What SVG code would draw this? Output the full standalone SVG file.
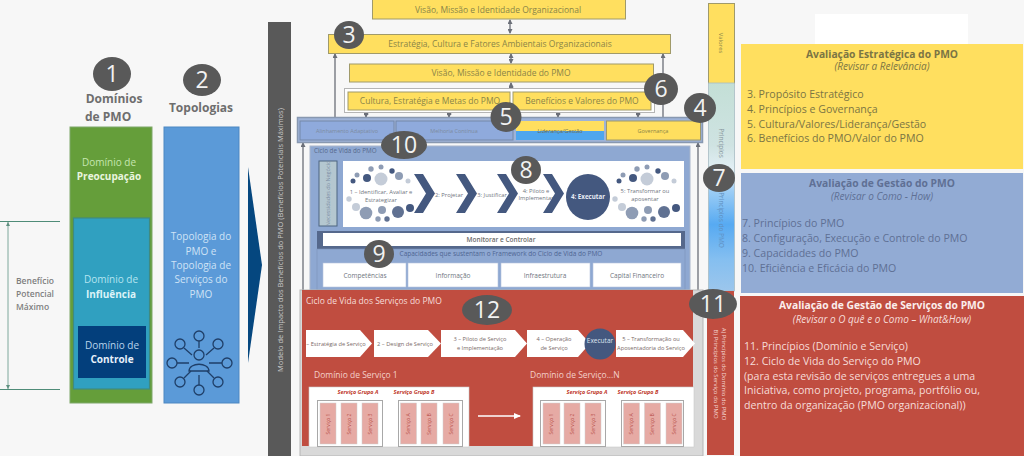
<svg xmlns="http://www.w3.org/2000/svg" xmlns:xlink="http://www.w3.org/1999/xlink" width="1024" height="456" viewBox="0 0 1024 456">
<style>
text{font-family:"Open Sans","Noto Sans","Liberation Sans",sans-serif}
.y{fill:#ffdf5f;stroke:#a09a6a;stroke-width:1}
.yt{fill:#8a8548;font-size:8.5px;text-anchor:middle}
.bn{fill:#8faadc;stroke:#7488a8;stroke-width:1}
.st{font-size:5.5px;text-anchor:middle;fill:#7d8aa0}
.num{fill:#595959}
.nt{fill:#f2f2f2;font-size:23px;text-anchor:middle}
.w{fill:#fff}
.p7{font-size:6.5px;text-anchor:middle;fill:#6f7680}
.p6{font-size:5.8px;text-anchor:middle;fill:#6f7680}
.chev{fill:#44587f}
.pent{fill:#fff}
.pt{font-size:5.7px;text-anchor:middle;fill:#7a6a68}
.svc{fill:#e6aaa4;stroke:#cfcfcf;stroke-width:.5}
.grp{fill:#fff;stroke:#a8a8a8;stroke-width:1}
.gt{font-size:5.5px;font-weight:700;font-style:italic;fill:#c0392b;text-anchor:middle}
.sv{font-size:5px;fill:#b8504a;text-anchor:middle}
.cap{fill:#fff;stroke:#b5c4dd;stroke-width:.6}
.c1{fill:#44587f}.c2{fill:#8e9cb4}.c3{fill:#c4ccd8}
.con{stroke:#6b6f78;stroke-width:1.3;fill:none}
.ic{fill:none;stroke:#1f3f68;stroke-width:1.3}
.h{font-size:10.3px;font-weight:700;text-anchor:middle}
.s{font-size:10px;font-style:italic;text-anchor:middle}
.l{font-size:10.6px}
</style>
<defs>
<marker id="ah" markerWidth="5" markerHeight="5" refX="4" refY="2.5" orient="auto-start-reverse" markerUnits="userSpaceOnUse"><path d="M0 0L5 2.5L0 5z" fill="#6b6f78"/></marker>
<marker id="aw" markerWidth="7" markerHeight="6" refX="6" refY="3" orient="auto" markerUnits="userSpaceOnUse"><path d="M0 0L7 3L0 6z" fill="#fff"/></marker>
<linearGradient id="pg" x1="0" y1="0" x2="0" y2="1">
<stop offset="0" stop-color="#c3dfd6"/><stop offset=".3" stop-color="#cfe3e2"/><stop offset=".42" stop-color="#e3f0f6"/><stop offset=".52" stop-color="#9ccdf5"/><stop offset=".68" stop-color="#57aaf2"/><stop offset=".85" stop-color="#85bff0"/><stop offset="1" stop-color="#9cc6ec"/>
</linearGradient>
<g id="dots">
<circle class="c1" cx="353" cy="181" r="2.5"/><circle class="c2" cx="357" cy="175" r="2.5"/><circle class="c1" cx="367" cy="178" r="4"/><circle class="c2" cx="371" cy="169" r="2.7"/><circle class="c2" cx="381" cy="167" r="2.5"/><circle class="c3" cx="381" cy="179" r="6.5"/><circle class="c1" cx="392" cy="171" r="2.7"/><circle class="c2" cx="399" cy="176" r="4"/><circle class="c3" cx="408" cy="181" r="2.5"/><circle class="c3" cx="349" cy="199" r="2.7"/><circle class="c3" cx="356" cy="207" r="4"/><circle class="c2" cx="366" cy="213" r="6.3"/><circle class="c2" cx="382" cy="210" r="4"/><circle class="c1" cx="398" cy="212" r="6" opacity=".85"/><circle class="c1" cx="410" cy="208" r="4"/><circle class="c2" cx="378" cy="219" r="2.7"/><circle class="c1" cx="387" cy="219" r="2.7" opacity=".85"/>
</g>
<path id="chv" d="M0 0H9L21 19.5L9 39H0L12 19.5z"/>
</defs>

<rect width="1024" height="456" fill="#f7f7f7"/>

<g id="beneficio">
<path d="M0 221.500H60M0 389.500H60" stroke="#4f8c78" stroke-width="1.2" fill="none"/>
<path d="M8 222V389" stroke="#7fa89c" stroke-width="1"/>
<path d="M8 222l-2 4h4zM8 389l-2-4h4z" fill="#5f9080"/>
<text x="16" y="284" font-size="8.500" font-weight="600" fill="#7f7f7f">Benefício</text>
<text x="16" y="297" font-size="8.500" font-weight="600" fill="#7f7f7f">Potencial</text>
<text x="16" y="310" font-size="8.500" font-weight="600" fill="#7f7f7f">Máximo</text>
</g>

<g id="dominios">
<text x="114" y="103" font-size="12" font-weight="700" fill="#6e6e6e" text-anchor="middle">Domínios</text>
<text x="85" y="121" font-size="12" font-weight="700" fill="#6e6e6e">de PMO</text>
<rect x="70" y="127" width="82" height="276" fill="#659e3a" stroke="#7fa86a"/>
<text x="109" y="166" font-size="10" fill="#c5e6b0" text-anchor="middle">Domínio de</text>
<text x="109" y="180" font-size="10" font-weight="700" fill="#e9f5df" text-anchor="middle">Preocupação</text>
<rect x="73.500" y="218" width="76" height="171" fill="#30a0c0" stroke="#3f8a80" stroke-width="1.2"/>
<text x="111" y="283" font-size="10" fill="#b5e4f0" text-anchor="middle">Domínio de</text>
<text x="111" y="298" font-size="10" font-weight="700" fill="#dcf3f8" text-anchor="middle">Influência</text>
<rect x="78" y="326" width="68" height="52" fill="#033f7c"/>
<text x="112" y="349" font-size="10" fill="#b9d3ec" text-anchor="middle">Domínio de</text>
<text x="112" y="363" font-size="10" font-weight="700" fill="#e6f0fa" text-anchor="middle">Controle</text>
</g>

<g id="topologias">
<text x="201" y="112" font-size="12" font-weight="700" fill="#6e6e6e" text-anchor="middle">Topologias</text>
<rect x="164" y="127" width="75" height="276" fill="#5b9ad8" stroke="#4d87c2"/>
<text x="201" y="240" font-size="10" fill="#cfe3f6" text-anchor="middle">Topologia do</text>
<text x="201" y="255" font-size="10" fill="#cfe3f6" text-anchor="middle">PMO e</text>
<text x="201" y="269" font-size="10" fill="#cfe3f6" text-anchor="middle">Topologia de</text>
<text x="201" y="283" font-size="10" fill="#cfe3f6" text-anchor="middle">Serviços do</text>
<text x="201" y="298" font-size="10" fill="#cfe3f6" text-anchor="middle">PMO</text>
<g class="ic">
<circle cx="199" cy="336" r="5"/><circle cx="180" cy="344" r="5"/><circle cx="218" cy="344" r="5"/><circle cx="172" cy="363" r="5"/><circle cx="227" cy="363" r="5"/><circle cx="180" cy="382" r="5"/><circle cx="218" cy="382" r="5"/><circle cx="199" cy="390" r="5"/>
<path d="M199 341V348M184 348L192 355M214 348L206 355M177 363H189M209 363H222M184 378L191 371M214 378L207 371M199 385V375"/>
<circle cx="199" cy="355" r="5"/>
<path d="M189 371C189 362 209 362 209 371Z"/>
</g>
</g>

<path id="seta" d="M248 167L262 265L248 363z" fill="#05477f"/>

<g id="modelo">
<rect x="268" y="22" width="23" height="434" fill="#595959"/>
<text transform="translate(283 240) rotate(-90)" font-size="7.500" fill="#c8c8c8" text-anchor="middle">Modelo de Impacto dos Benefícios do PMO (Benefícios Potenciais Máximos)</text>
</g>

<g id="conectores">
<path class="con" d="M510 20V33" marker-start="url(#ah)" marker-end="url(#ah)"/>
<path class="con" d="M511 54V63" marker-start="url(#ah)" marker-end="url(#ah)"/>
<path class="con" d="M511 83V91" marker-start="url(#ah)" marker-end="url(#ah)"/>
<path class="con" d="M335 117V54" marker-end="url(#ah)"/>
<path class="con" d="M663 117V54" marker-end="url(#ah)"/>
<path class="con" d="M366 111V117" marker-start="url(#ah)" marker-end="url(#ah)"/>
<path class="con" d="M449 111V117" marker-start="url(#ah)" marker-end="url(#ah)"/>
<path class="con" d="M558 111V117" marker-start="url(#ah)" marker-end="url(#ah)"/>
<path class="con" d="M638 111V117" marker-start="url(#ah)" marker-end="url(#ah)"/>
<path class="con" d="M303 290V143" marker-end="url(#ah)"/>
<path class="con" d="M698 290V143" marker-end="url(#ah)"/>
</g>

<g id="visao-org"><rect class="y" x="372.500" y="-2" width="253" height="21"/><text class="yt" x="498" y="13">Visão, Missão e Identidade Organizacional</text></g>
<g id="estrategia"><rect class="y" x="328.500" y="34.500" width="342" height="19"/><text class="yt" x="500" y="47">Estratégia, Cultura e Fatores Ambientais Organizacionais</text></g>
<g id="visao-pmo"><rect class="y" x="349.500" y="64" width="304" height="18"/><text class="yt" x="501" y="76">Visão, Missão e Identidade do PMO</text></g>
<rect x="344.500" y="88.500" width="310" height="24" fill="#fff" stroke="#b5b5b5"/>
<g id="cultura"><rect class="y" x="348" y="92" width="162" height="18"/><text class="yt" x="430" y="104">Cultura, Estratégia e Metas do PMO</text></g>
<g id="beneficios"><rect class="y" x="513" y="92" width="138" height="18"/><text class="yt" x="582" y="104">Benefícios e Valores do PMO</text></g>

<g id="pilares">
<rect x="297.500" y="117.500" width="405" height="25" fill="#9eb3d8" stroke="#8898b0" stroke-width="1.500"/>
<g id="alinhamento"><rect class="bn" x="300" y="121" width="94" height="19"/><text class="st" x="347" y="132.500">Alinhamento Adaptativo</text></g>
<g id="melhoria"><rect class="bn" x="396" y="121" width="117" height="19"/><text class="st" x="454" y="132.500">Melhoria Contínua</text></g>
<g id="lideranca"><rect x="516" y="121" width="88" height="10" fill="#ffdf5f"/><rect x="516" y="131" width="88" height="9" fill="#4ea6ee"/><text class="st" x="560" y="132.500" style="fill:#6a6a50">Liderança/Gestão</text></g>
<g id="governanca"><rect class="y" x="606.500" y="121" width="94" height="19"/><text class="st" x="653" y="132.500" style="fill:#8a8548">Governança</text></g>
</g>

<g id="ciclo-pmo">
<rect x="310" y="146" width="380" height="145" fill="#8ea8d2" stroke="#a9b6cc"/>
<text x="314" y="153" font-size="6.300" fill="#56688c">Ciclo de Vida do PMO</text>
<g id="necessidades"><rect x="319" y="161" width="18" height="65" fill="#b4c7d0" stroke="#4d6480" stroke-width="1"/><text transform="translate(330 193.500) rotate(-90)" font-size="5.500" fill="#7f8fa5" text-anchor="middle">Necessidades do Negócio</text></g>
<rect class="w" x="343" y="161" width="341" height="66"/>
<use xlink:href="#dots" href="#dots"/>
<use xlink:href="#dots" href="#dots" x="266"/>
<text class="p6" x="381" y="194">1 – Identificar, Avaliar e</text>
<text class="p6" x="381" y="201.500">Estrategizar</text>
<text class="p6" x="449" y="197">2: Projetar</text>
<text class="p6" x="492" y="197">3: Justificar</text>
<text class="p6" x="536" y="193">4: Piloto e</text>
<text class="p6" x="536" y="200">Implementar</text>
<use class="chev" xlink:href="#chv" href="#chv" x="414" y="174"/>
<use class="chev" xlink:href="#chv" href="#chv" x="456" y="174"/>
<use class="chev" xlink:href="#chv" href="#chv" x="497" y="174"/>
<use class="chev" xlink:href="#chv" href="#chv" x="543" y="174"/>
<ellipse cx="588" cy="197" rx="22" ry="23" fill="#44587f"/>
<text x="588" y="199" font-size="6.200" font-weight="700" fill="#e8ecf4" text-anchor="middle">4: Executar</text>
<text class="p6" x="645" y="193">5: Transformar ou</text>
<text class="p6" x="645" y="200.500">aposentar</text>
<g id="monitorar"><rect x="317" y="231" width="368" height="18" fill="#55688c"/><rect class="w" x="323" y="233" width="358" height="13"/><text x="501" y="242" font-size="6.500" font-weight="600" fill="#6b6b6b" text-anchor="middle">Monitorar e Controlar</text></g>
<rect x="317" y="249" width="368" height="41" fill="#8ea8d2" stroke="#7c92ba" stroke-width=".6"/>
<text x="501" y="255.500" font-size="6.500" fill="#4f6692" text-anchor="middle">Capacidades que sustentam o Framework do Ciclo de Vida do PMO</text>
<g id="competencias"><rect class="cap" x="323" y="263" width="83" height="24"/><text class="p7" x="365" y="277.500">Competências</text></g>
<g id="informacao"><rect class="cap" x="408" y="263" width="90" height="24"/><text class="p7" x="453" y="277.500">Informação</text></g>
<g id="infraestrutura"><rect class="cap" x="501" y="263" width="89" height="24"/><text class="p7" x="545" y="277.500">Infraestrutura</text></g>
<g id="capital"><rect class="cap" x="593" y="263" width="88" height="24"/><text class="p7" x="637" y="277.500">Capital Financeiro</text></g>
</g>

<g id="ciclo-servicos">
<rect x="300" y="290" width="403" height="166" fill="#d9d9d9" stroke="#b5b5b5"/>
<rect x="302" y="290" width="391" height="156" fill="#c04d40"/>
<text x="306" y="304" font-size="8.500" fill="#f6dcd8">Ciclo de Vida dos Serviços do PMO</text>
<g id="etapa1"><path class="pent" d="M306 330H360L372 343.500L360 357H306z"/><text class="pt" x="336" y="346">– Estratégia de Serviço</text></g>
<g id="etapa2"><path class="pent" d="M374 330H428L441 343.500L428 357H374z"/><text class="pt" x="405" y="346">2 – Design de Serviço</text></g>
<g id="etapa3"><path class="pent" d="M441 330H515L527 343.500L515 357H441z"/><text class="pt" x="480" y="341">3 – Piloto de Serviço</text><text class="pt" x="480" y="350">e Implementação</text></g>
<g id="etapa4"><path class="pent" d="M527 330H578L590 343.500L578 357H527z"/><text class="pt" x="554" y="341">4 –  Operação</text><text class="pt" x="554" y="350">de Serviço</text></g>
<g id="executar"><ellipse cx="600" cy="344" rx="15.500" ry="15.500" fill="#44587f"/><text x="600" y="343" font-size="6.500" fill="#dfe5f0" text-anchor="middle">Executar</text></g>
<g id="etapa5"><path class="pent" d="M616 330H683L695 343.500L683 357H616z"/><text class="pt" x="651" y="341">5 – Transformação ou</text><text class="pt" x="651" y="350">Aposentadoria do Serviço</text></g>
<g id="dominio1">
<text x="314" y="378" font-size="8.500" fill="#f4cfca">Domínio de Serviço 1</text>
<rect class="w" x="309" y="387" width="160" height="60" stroke="#c9c9c9" stroke-width=".6"/>
<text class="gt" x="358" y="394">Serviço Grupo A</text><text class="gt" x="414" y="394">Serviço Grupo B</text>
<rect class="grp" x="317.500" y="400.500" width="65" height="46"/><rect class="grp" x="398.500" y="400.500" width="64" height="46"/>
<rect class="svc" x="320" y="403" width="16" height="41"/><rect class="svc" x="341" y="403" width="16" height="41"/><rect class="svc" x="362" y="403" width="16" height="41"/><rect class="svc" x="400.500" y="403" width="16" height="41"/><rect class="svc" x="421" y="403" width="16" height="41"/><rect class="svc" x="443" y="403" width="16" height="41"/>
<text class="sv" transform="translate(330 424) rotate(-90)">Serviço 1</text><text class="sv" transform="translate(351 424) rotate(-90)">Serviço 2</text><text class="sv" transform="translate(372 424) rotate(-90)">Serviço 3</text><text class="sv" transform="translate(410 424) rotate(-90)">Serviço A</text><text class="sv" transform="translate(431 424) rotate(-90)">Serviço B</text><text class="sv" transform="translate(453 424) rotate(-90)">Serviço C</text>
</g>
<path d="M478 416H520" stroke="#fff" stroke-width="1.500" marker-end="url(#aw)"/>
<g id="dominioN">
<text x="530" y="378" font-size="8.500" fill="#f4cfca">Domínio de Serviço...N</text>
<rect class="w" x="533" y="387" width="161" height="60" stroke="#c9c9c9" stroke-width=".6"/>
<text class="gt" x="587" y="394">Serviço Grupo A</text><text class="gt" x="638" y="394">Serviço Grupo B</text>
<rect class="grp" x="540.500" y="400.500" width="65" height="46"/><rect class="grp" x="621.500" y="400.500" width="62" height="46"/>
<rect class="svc" x="543" y="403" width="17" height="41"/><rect class="svc" x="564" y="403" width="16" height="41"/><rect class="svc" x="585" y="403" width="16" height="41"/><rect class="svc" x="623.500" y="403" width="16" height="41"/><rect class="svc" x="644.500" y="403" width="16" height="41"/><rect class="svc" x="666" y="403" width="16" height="41"/>
<text class="sv" transform="translate(553 424) rotate(-90)">Serviço 1</text><text class="sv" transform="translate(574 424) rotate(-90)">Serviço 2</text><text class="sv" transform="translate(595 424) rotate(-90)">Serviço 3</text><text class="sv" transform="translate(633 424) rotate(-90)">Serviço A</text><text class="sv" transform="translate(654 424) rotate(-90)">Serviço B</text><text class="sv" transform="translate(676 424) rotate(-90)">Serviço C</text>
</g>
</g>

<g id="coluna-direita">
<rect x="708.500" y="3.500" width="26" height="80" fill="#ffdf5f" stroke="#a09a6a"/>
<text transform="translate(719 43) rotate(90)" font-size="6" fill="#8a8548" text-anchor="middle">Valores</text>
<rect x="708.500" y="83" width="26" height="208" fill="url(#pg)" stroke="#a9bcc4" stroke-width=".8"/>
<text transform="translate(719 143) rotate(90)" font-size="6.500" fill="#86969c" text-anchor="middle">Princípios</text>
<text transform="translate(719 220) rotate(90)" font-size="6.500" fill="#5f8fc0" text-anchor="middle">Princípios do PMO</text>
<rect x="707" y="291" width="27" height="164" fill="#c04d40"/>
<text transform="translate(722 374) rotate(90)" font-size="6" fill="#f4d6d2" text-anchor="middle">A) Princípios do Domínio do PMO</text>
<text transform="translate(714 374) rotate(90)" font-size="6" fill="#f4d6d2" text-anchor="middle">B) Princípios do Serviço do PMO</text>
</g>

<rect x="815" y="14" width="153" height="30" fill="#fff"/>

<g id="aval-estrategica" fill="#7b7544">
<rect x="741" y="44" width="282" height="125" fill="#ffdf5f"/>
<text class="h" x="882" y="58">Avaliação Estratégica do PMO</text>
<text class="s" x="882" y="70">(Revisar a Relevância)</text>
<text class="l" x="747" y="98">3. Propósito Estratégico</text>
<text class="l" x="747" y="113">4. Princípios e Governança</text>
<text class="l" x="747" y="128">5. Cultura/Valores/Liderança/Gestão</text>
<text class="l" x="747" y="142">6. Benefícios do PMO/Valor do PMO</text>
</g>
<g id="aval-gestao" fill="#5f7094">
<rect x="741" y="173" width="282" height="120" fill="#92abd4"/>
<text class="h" x="882" y="187">Avaliação de Gestão do PMO</text>
<text class="s" x="882" y="200">(Revisar o Como - How)</text>
<text class="l" x="742" y="227">7. Princípios do PMO</text>
<text class="l" x="742" y="242">8. Configuração, Execução e Controle do PMO</text>
<text class="l" x="742" y="257">9. Capacidades do PMO</text>
<text class="l" x="742" y="272">10. Eficiência e Eficácia do PMO</text>
</g>
<g id="aval-servicos" fill="#f6dcd8">
<rect x="740" y="296" width="284" height="160" fill="#c04d40"/>
<text class="h" x="882" y="309" style="fill:#fbeeec">Avaliação de Gestão de Serviços do PMO</text>
<text class="s" x="882" y="323">(Revisar o O quê e o Como – What&amp;How)</text>
<text class="l" x="744" y="350">11. Princípios (Domínio e Serviço)</text>
<text class="l" x="744" y="365">12. Ciclo de Vida do Serviço do PMO</text>
<text class="l" x="744" y="380">(para esta revisão de serviços entregues a uma</text>
<text class="l" x="744" y="394">Iniciativa, como projeto, programa, portfólio ou,</text>
<text class="l" x="744" y="409">dentro da organização (PMO organizacional))</text>
</g>

<g id="marcadores">
<g id="n1"><ellipse class="num" cx="112" cy="74" rx="19" ry="17"/><text class="nt" x="112" y="82">1</text></g>
<g id="n2"><ellipse class="num" cx="202" cy="80" rx="19" ry="16"/><text class="nt" x="202" y="88">2</text></g>
<g id="n3"><ellipse class="num" cx="349" cy="35" rx="15" ry="14"/><text class="nt" x="349" y="43">3</text></g>
<g id="n4"><ellipse class="num" cx="700" cy="108" rx="16" ry="15"/><text class="nt" x="700" y="116">4</text></g>
<g id="n5"><ellipse class="num" cx="506" cy="117" rx="15.500" ry="15"/><text class="nt" x="506" y="125">5</text></g>
<g id="n6"><ellipse class="num" cx="661" cy="89" rx="17" ry="16"/><text class="nt" x="661" y="97">6</text></g>
<g id="n7"><ellipse class="num" cx="719" cy="178" rx="16" ry="14"/><text class="nt" x="719" y="186">7</text></g>
<g id="n8"><ellipse class="num" cx="526" cy="170" rx="15" ry="14"/><text class="nt" x="526" y="178">8</text></g>
<g id="n9"><ellipse class="num" cx="379" cy="254" rx="15" ry="14"/><text class="nt" x="379" y="262">9</text></g>
<g id="n10"><ellipse class="num" cx="404" cy="145" rx="23" ry="14"/><text class="nt" x="404" y="153">10</text></g>
<g id="n11"><ellipse class="num" cx="713" cy="304" rx="24" ry="15"/><text class="nt" x="713" y="312">11</text></g>
<g id="n12"><ellipse class="num" cx="487" cy="310" rx="25" ry="15"/><text class="nt" x="487" y="318">12</text></g>
</g>
</svg>
